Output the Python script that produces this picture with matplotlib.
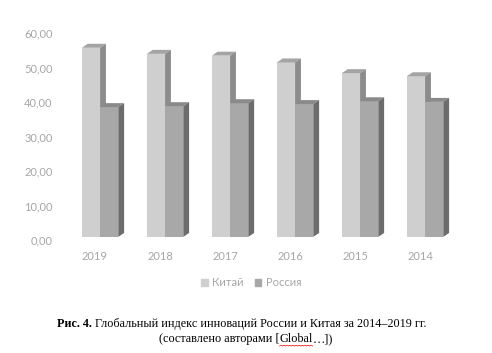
import matplotlib
matplotlib.use("Agg")
import matplotlib.pyplot as plt
from matplotlib.patches import Polygon, Patch
from matplotlib.lines import Line2D
import numpy as np

# data (Global Innovation Index)
years = ["2019", "2018", "2017", "2016", "2015", "2014"]
china = [54.82, 53.06, 52.54, 50.57, 47.47, 46.57]
russia = [37.62, 37.90, 38.76, 38.50, 39.32, 39.14]
yticks = [0, 10, 20, 30, 40, 50, 60]

# styles
c_front = "#cfcfcf"; c_top = "#a4a4a4"; c_side = "#8c8c8c"
r_front = "#a8a8a8"; r_top = "#8a8a8a"; r_side = "#6c6c6c"
txt_gray = "#a6a6a6"
width = 0.28
base = 0.9       # 3d floor offset
dx, dy = 0.09, 1.15   # depth of the 3d bars

fig = plt.figure(figsize=(4.92, 3.53), dpi=100)
ax = fig.add_axes([62.5/492, 1-240/353, 390/492, 207/353])

x = np.arange(len(years))


def bar3d(xc, vals, front, top, side):
    ax.bar(xc, vals, width=width, bottom=base, color=front, zorder=2)
    for xi, v in zip(xc, vals):
        l, r = xi - width/2, xi + width/2
        t = base + v
        ax.add_patch(Polygon([(l, t), (r, t), (r+dx, t+dy), (l+dx, t+dy)],
                             closed=True, color=top, lw=0, zorder=2))
        ax.add_patch(Polygon([(r, base), (r+dx, base+dy), (r+dx, t+dy), (r, t)],
                             closed=True, color=side, lw=0, zorder=2))


bar3d(x - 0.062, china, c_front, c_top, c_side)
bar3d(x - 0.062 + width, russia, r_front, r_top, r_side)

ax.set_xlim(-0.5, 5.5)
ax.set_ylim(0, 60)
ax.set_yticks(yticks)
ax.set_yticklabels([f"{v:.2f}".replace(".", ",") for v in yticks])
ax.set_xticks(x)
ax.set_xticklabels(years)
ax.tick_params(length=0, colors=txt_gray, labelsize=8)
ax.tick_params(axis="y", pad=7)
ax.tick_params(axis="x", pad=8)
for lab in ax.get_xticklabels() + ax.get_yticklabels():
    lab.set_fontfamily("Lato")
for s in ax.spines.values():
    s.set_visible(False)

handles = [Patch(color=c_front, label="Китай"), Patch(color=r_front, label="Россия")]
fig.legend(handles=handles, loc="center", bbox_to_anchor=(251/492, 1-283/353),
           ncol=2, frameon=False, handlelength=0.6, handleheight=0.6,
           handletextpad=0.4, columnspacing=1.0,
           prop={"family": "Lato", "size": 8}, labelcolor=txt_gray)

# caption
fig.canvas.draw()
rend = fig.canvas.get_renderer()
serif = "Liberation Serif"
y1 = 1 - 324/353
t1 = fig.text(57/492, y1, "Рис. 4.", family=serif, weight="bold", size=8.7, va="center")
bb = t1.get_window_extent(rend)
fig.text((bb.x1 + 3)/492, y1, "Глобальный индекс инноваций России и Китая за 2014–2019 гг.",
         family=serif, size=8.7, va="center")

y2 = 1 - 339/353
p1 = fig.text(159/492, y2, "(составлено авторами [", family=serif, size=8.8, va="center")
b1 = p1.get_window_extent(rend)
p2 = fig.text(b1.x1/492, y2, "Global", family=serif, size=8.8, va="center")
b2 = p2.get_window_extent(rend)
fig.text(b2.x1/492, y2, "…])", family=serif, size=8.8, va="center")

# spell-check underline
xs = np.arange(b2.x0, b2.x1, 1.5)
ys = b2.y0 - 1 + 0.8*(np.arange(len(xs)) % 2)
fig.add_artist(Line2D(xs/492, ys/353, color="red", lw=0.5))

fig.savefig("out.png", dpi=100)
